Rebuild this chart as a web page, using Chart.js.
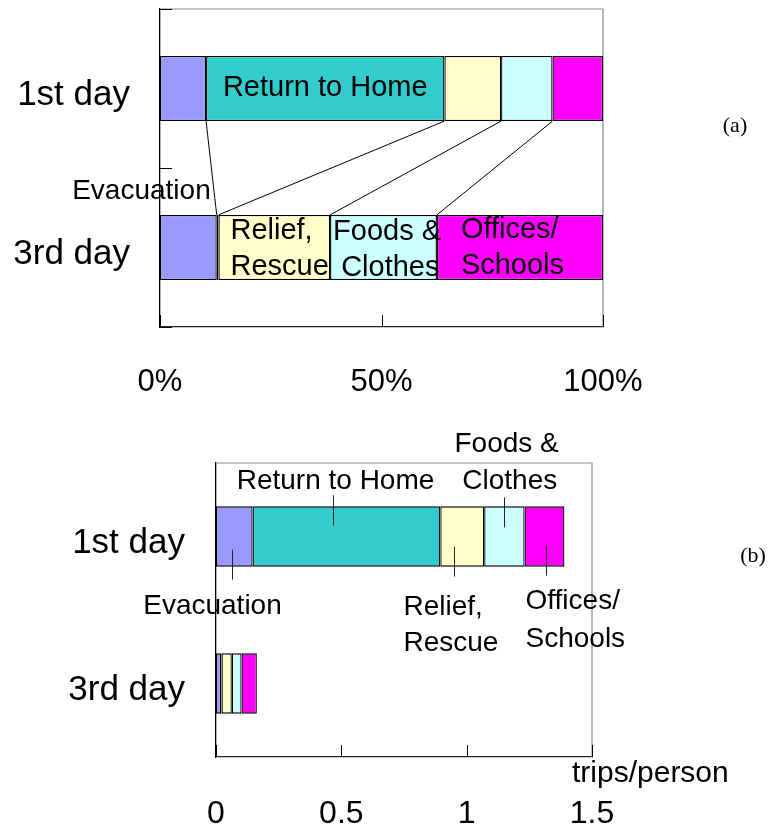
<!DOCTYPE html>
<html>
<head>
<meta charset="utf-8">
<script src="https://cdn.jsdelivr.net/npm/chart.js@4.4.0/dist/chart.umd.min.js"></script>
<style>
  html, body { margin: 0; padding: 0; background: #fff; }
  #wrap { position: relative; width: 773px; height: 830px; }
  .box { position: absolute; left: 0; width: 773px; }
  #boxA { top: 0; height: 420px; }
  #boxB { top: 420px; height: 410px; }
</style>
</head>
<body>
<div id="wrap">
  <div class="box" id="boxA"><canvas id="shareChart"></canvas></div>
  <div class="box" id="boxB"><canvas id="tripChart"></canvas></div>
</div>
<script>
const days = ['1st day', '3rd day'];
const purposeLines = [['Evacuation'], ['Return to Home'], ['Relief,', 'Rescue'], ['Foods &', 'Clothes'], ['Offices/', 'Schools']];
const colors = ['#9999FF', '#33CCCC', '#FFFFCC', '#CCFFFF', '#FF00FF'];

// (a) share of trips by purpose (%)
const evacShare = [10.4, 12.8];
const homeShare = [53.8, 0.4];
const reliefShare = [12.8, 25.2];
const foodsShare = [11.6, 24.1];
const officeShare = [11.4, 37.5];
const shareTicks = [0, 50, 100];

// (b) trips per person by purpose
const evacTrips = [0.146, 0.020];
const homeTrips = [0.749, 0.002];
const reliefTrips = [0.175, 0.041];
const foodsTrips = [0.161, 0.039];
const officeTrips = [0.159, 0.061];
const tripTicks = [0, 0.5, 1, 1.5];

const SANS = "'Liberation Sans', Arial, sans-serif";

function makeSets(series) {
  return series.map((vals, i) => ({
    label: purposeLines[i].join(' '),
    data: vals,
    backgroundColor: colors[i],
    borderColor: '#000',
    borderWidth: 1.3,
    borderSkipped: false,
    categoryPercentage: 1,
    barPercentage: 0.41
  }));
}

// gray top/right frame + short inward tick marks
const framePlugin = {
  id: 'frame',
  beforeDatasetsDraw(chart, args, opts) {
    const { ctx, chartArea: a } = chart;
    ctx.save();
    ctx.strokeStyle = '#8a8a8a';
    ctx.lineWidth = 1.2;
    ctx.beginPath();
    ctx.moveTo(a.left, a.top);
    ctx.lineTo(a.right, a.top);
    ctx.lineTo(a.right, a.bottom);
    ctx.stroke();

    ctx.strokeStyle = '#000';
    ctx.lineWidth = 1;
    ctx.beginPath();
    const xs = chart.scales.x;
    xs.ticks.forEach(t => {
      const px = Math.round(xs.getPixelForValue(t.value)) + 0.5;
      ctx.moveTo(px, a.bottom);
      ctx.lineTo(px, a.bottom - 12);
    });
    if (opts.yTicks) {
      const ys = chart.scales.y;
      for (let i = 0; i <= days.length; i++) {
        const py = Math.round(ys.getPixelForValue(i - 0.5)) + 0.5;
        ctx.moveTo(a.left, py);
        ctx.lineTo(a.left + 12, py);
      }
    }
    ctx.stroke();
    ctx.restore();
  }
};

function seg(chart, ds, day) {
  const el = chart.getDatasetMeta(ds).data[day];
  const h = Math.abs(el.height);
  return { start: el.base, end: el.x, mid: (el.base + el.x) / 2, top: el.y - h / 2, bottom: el.y + h / 2, y: el.y };
}

function drawLines(ctx, lines, x, ys, align) {
  ctx.textAlign = align;
  lines.forEach((t, k) => ctx.fillText(t, x, ys[k]));
}

// (a): series lines between the two bars and the labels
const shareLabels = {
  id: 'shareLabels',
  afterDatasetsDraw(chart) {
    const ctx = chart.ctx;
    ctx.save();
    ctx.strokeStyle = '#000';
    ctx.lineWidth = 1;
    ctx.beginPath();
    for (let ds = 0; ds < 4; ds++) {
      const a = seg(chart, ds, 0), b = seg(chart, ds, 1);
      ctx.moveTo(a.end, a.bottom);
      ctx.lineTo(b.end, b.top);
    }
    ctx.stroke();

    ctx.fillStyle = '#000';
    ctx.font = '29px ' + SANS;
    ctx.textBaseline = 'middle';
    const home = seg(chart, 1, 0);
    drawLines(ctx, purposeLines[1], home.mid, [home.y - 1], 'center');
    const relief = seg(chart, 2, 1);
    drawLines(ctx, purposeLines[2], relief.start + 12, [relief.y - 17, relief.y + 19], 'left');
    const foods = seg(chart, 3, 1);
    drawLines(ctx, ['Foods &', ' ' + purposeLines[3][1]], foods.start + 3, [foods.y - 16, foods.y + 20], 'left');
    const office = seg(chart, 4, 1);
    drawLines(ctx, purposeLines[4], office.start + 24, [office.y - 18, office.y + 18], 'left');
    const evac = seg(chart, 0, 1);
    ctx.font = '28px ' + SANS;
    drawLines(ctx, purposeLines[0], evac.end - 6, [evac.top - 24], 'right');

    ctx.font = "22px 'Liberation Serif', 'Times New Roman', serif";
    ctx.textAlign = 'center';
    ctx.fillText('(a)', chart.width - 38, chart.scales.y.getPixelForValue(0) + 38);
    ctx.restore();
  }
};

// (b): call-out labels with short leader lines
const callouts = [
  { ds: 0, side: 'below', lx: -2, l1: -13, l2: 17, tx: -20, ty: [40], align: 'center' },
  { ds: 1, side: 'above', lx: -13, l1: -11, l2: 19, tx: 2, ty: [-25], align: 'center' },
  { ds: 2, side: 'below', lx: -8, l1: -10, l2: 20, tx: -51, ty: [41, 77], align: 'left' },
  { ds: 3, side: 'above', lx: 0, l1: -9, l2: 21, tx: -50, ty: [-62, -25], align: 'left' },
  { ds: 4, side: 'below', lx: 2, l1: -9, l2: 21, tx: -21, ty: [35, 73], align: 'left' }
];

const tripLabels = {
  id: 'tripLabels',
  afterDatasetsDraw(chart) {
    const ctx = chart.ctx;
    const a = chart.chartArea;
    ctx.save();
    ctx.strokeStyle = '#222';
    ctx.lineWidth = 1;
    ctx.fillStyle = '#000';
    ctx.font = '28px ' + SANS;
    ctx.textBaseline = 'middle';
    callouts.forEach(c => {
      const s = seg(chart, c.ds, 0);
      const x = Math.round(s.mid + c.lx) + 0.5;
      const edge = c.side === 'above' ? s.top : s.bottom;
      const sign = c.side === 'above' ? 1 : -1;
      ctx.beginPath();
      ctx.moveTo(x, edge + sign * c.l1);
      ctx.lineTo(x, edge + sign * c.l2);
      ctx.stroke();
      let lines = purposeLines[c.ds];
      if (c.ds === 3) lines = ['Foods &', ' ' + lines[1]];
      drawLines(ctx, lines, x + c.tx, c.ty.map(d => edge + d), c.align);
    });

    ctx.font = '30px ' + SANS;
    ctx.textAlign = 'left';
    ctx.textBaseline = 'alphabetic';
    ctx.fillText('trips/person', a.right - 20, a.bottom + 25);

    ctx.font = "22px 'Liberation Serif', 'Times New Roman', serif";
    ctx.textAlign = 'center';
    ctx.textBaseline = 'middle';
    ctx.fillText('(b)', chart.width - 20, chart.scales.y.getPixelForValue(0) + 20);
    ctx.restore();
  }
};

function baseOptions(cfg) {
  return {
    indexAxis: 'y',
    responsive: true,
    maintainAspectRatio: false,
    animation: false,
    events: [],
    layout: { padding: cfg.padding },
    plugins: { legend: { display: false }, tooltip: { enabled: false }, frame: { yTicks: cfg.yTicks } },
    scales: {
      x: {
        stacked: true,
        min: 0,
        max: cfg.max,
        afterBuildTicks: s => { s.ticks = cfg.ticks.map(v => ({ value: v })); },
        grid: { display: false, drawTicks: false },
        border: { color: '#222', width: 1.3 },
        ticks: {
          color: '#000',
          font: cfg.xFont,
          padding: cfg.xPad,
          maxRotation: 0,
          autoSkip: false,
          callback: cfg.fmt
        },
        afterFit: s => { s.height = cfg.xHeight; s.paddingLeft = 0; s.paddingRight = 0; }
      },
      y: {
        stacked: true,
        grid: { display: false, drawTicks: false },
        border: { color: '#000', width: 1.3 },
        ticks: { color: '#000', font: { family: SANS, size: 35 }, padding: cfg.yPad, labelOffset: 7 },
        afterFit: s => { s.width = cfg.yWidth; s.paddingTop = 0; s.paddingBottom = 0; }
      }
    }
  };
}

new Chart(document.getElementById('shareChart'), {
  type: 'bar',
  data: {
    labels: days,
    datasets: makeSets([evacShare, homeShare, reliefShare, foodsShare, officeShare])
  },
  options: baseOptions({
    padding: { top: 9, right: 170, left: 0, bottom: 0 },
    max: 100, ticks: shareTicks, fmt: v => v + '%',
    xFont: { family: SANS, size: 31 },
    xPad: 37, xHeight: 93, yPad: 30, yWidth: 160, yTicks: true
  }),
  plugins: [framePlugin, shareLabels]
});

new Chart(document.getElementById('tripChart'), {
  type: 'bar',
  data: {
    labels: days,
    datasets: makeSets([evacTrips, homeTrips, reliefTrips, foodsTrips, officeTrips])
  },
  options: baseOptions({
    padding: { top: 43, right: 181, left: 0, bottom: 0 },
    max: 1.5, ticks: tripTicks, fmt: v => String(v),
    xFont: { family: SANS, size: 32 },
    xPad: 38, xHeight: 73, yPad: 31, yWidth: 216, yTicks: false
  }),
  plugins: [framePlugin, tripLabels]
});
</script>
</body>
</html>
